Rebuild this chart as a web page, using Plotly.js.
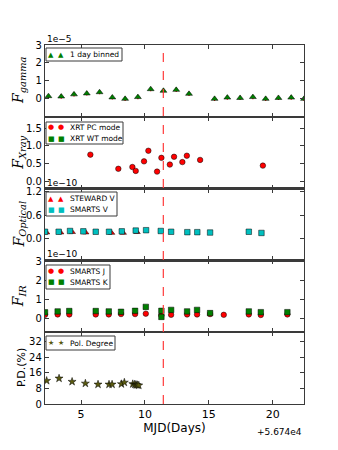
<!DOCTYPE html>
<html>
<head>
<meta charset="utf-8">
<script src="https://cdn.plot.ly/plotly-3.0.1.min.js"></script>
<style>html,body{margin:0;padding:0;background:#fff;}#chart{width:338px;height:450px;}</style>
</head>
<body>
<div id="chart"></div>
<script>
// ---- Data (MJD offsets from 56740) ----
const gammaDays = [2.45,3.45,4.45,5.45,6.45,7.45,8.45,9.45,10.45,11.45,12.45,13.45,15.45,16.45,17.45,18.45,19.45,20.45,21.45,22.45];
const gammaFlux = [0.15,0.13,0.25,0.30,0.37,0.08,0.00,0.10,0.54,0.45,0.50,0.28,0.00,0.07,0.05,0.10,0.00,0.05,0.07,0.00]; // x1e-5
const gammaErr  = [0.12,0.12,0.12,0.12,0.12,0.12,0.12,0.12,0.12,0.12,0.12,0.12,0.12,0.12,0.12,0.12,0.12,0.12,0.12,0.12];

const xrtPcDays = [5.73,7.92,9.02,9.28,9.93,10.27,10.95,11.29,11.95,12.28,12.93,13.28,14.32,19.23];
const xrtPcFlux = [0.75,0.35,0.40,0.29,0.56,0.86,0.27,0.66,0.47,0.69,0.54,0.72,0.60,0.44]; // x1e-10
const xrtWtDays = [];
const xrtWtFlux = [];

const stewardVDays = [2.31,3.41,4.32,5.37,7.40,8.31,9.39];
const stewardVFlux = [0.16,0.16,0.17,0.16,0.15,0.15,0.17];
const smartsVDays = [2.18,3.25,4.14,5.18,6.15,7.19,8.19,9.28,10.09,11.24,12.05,13.32,14.10,15.10,18.13,19.12];
const smartsVFlux = [0.18,0.18,0.20,0.19,0.18,0.18,0.19,0.21,0.22,0.20,0.18,0.17,0.17,0.16,0.18,0.15];

const smartsJDays = [2.18,3.17,4.08,6.15,7.17,8.13,9.23,10.07,11.29,12.05,13.30,14.08,15.10,16.17,18.13,19.07,21.15];
const smartsJFlux = [0.17,0.19,0.19,0.19,0.19,0.21,0.21,0.23,0.14,0.17,0.19,0.19,0.21,0.17,0.19,0.16,0.19];
const smartsKDays = [2.18,3.17,4.08,6.15,7.17,8.13,9.23,10.07,11.29,11.29,12.05,13.30,14.08,15.10,18.13,19.07,21.15];
const smartsKFlux = [0.30,0.35,0.37,0.37,0.35,0.33,0.38,0.59,0.38,0.06,0.43,0.35,0.43,0.26,0.35,0.31,0.31];

const polDays = [2.31,3.28,4.30,5.34,6.33,7.19,7.43,8.16,8.39,9.05,9.20,9.30,9.40,9.52];
const polDeg  = [12.0,13.2,11.5,10.6,10.1,10.1,10.1,10.3,11.1,10.3,10.1,9.9,9.8,9.6];

const flareDay = 11.44;
const xTicks = [5,10,15,20];
const xTickText = ['5','10','15','20'];

// ---- Styles ----
const W = 338, H = 450, ML = 45, MR = 34, MT = 45, MB = 46;
const PW = W - ML - MR, PH = H - MT - MB;
const px2x = p => (p - ML) / PW;
const py2y = p => (H - MB - p) / PH;

const xRange = [2.18, 22.45];
const frame = '#3a3a3a';
function xax(anchor, labels){
  return {domain:[0,1], anchor:anchor, range:xRange, tickvals:xTicks, ticktext:xTickText,
    showticklabels:labels, ticks:'inside', ticklen:4, tickwidth:1, tickcolor:frame,
    showline:true, linecolor:frame, linewidth:1.2, mirror:'ticks', showgrid:false, zeroline:false,
    tickfont:{family:'DejaVu Sans', size:11, color:'#000'}};
}
function yax(anchor, dom, range, tv, tt){
  return {domain:dom, anchor:anchor, range:range, tickvals:tv, ticktext:tt,
    ticks:'inside', ticklen:4, tickwidth:1, tickcolor:frame,
    showline:true, linecolor:frame, linewidth:1.2, mirror:'ticks', showgrid:false, zeroline:false,
    tickfont:{family:'DejaVu Sans', size:10, color:'#000'}};
}
const edge = {color:'#000', width:0.5};
const RED = '#ff0000', GREEN = '#007f00', CYAN = '#00bfbf', OLIVE = '#5a5a10';
const MS = 5.5;

const traces = [
  {x:gammaDays, y:gammaFlux, xaxis:'x', yaxis:'y', type:'scatter', mode:'markers', name:'1 day binned',
   error_y:{type:'data', array:gammaErr, color:RED, thickness:1.2, width:0},
   marker:{symbol:'triangle-up', size:MS+0.5, color:GREEN, line:edge}},
  {x:xrtPcDays, y:xrtPcFlux, xaxis:'x2', yaxis:'y2', type:'scatter', mode:'markers', name:'XRT PC mode',
   marker:{symbol:'circle', size:MS, color:RED, line:edge}},
  {x:xrtWtDays, y:xrtWtFlux, xaxis:'x2', yaxis:'y2', type:'scatter', mode:'markers', name:'XRT WT mode',
   marker:{symbol:'square', size:MS, color:GREEN, line:edge}},
  {x:stewardVDays, y:stewardVFlux, xaxis:'x3', yaxis:'y3', type:'scatter', mode:'markers', name:'STEWARD V',
   marker:{symbol:'triangle-up', size:MS, color:RED, line:edge}},
  {x:smartsVDays, y:smartsVFlux, xaxis:'x3', yaxis:'y3', type:'scatter', mode:'markers', name:'SMARTS V',
   marker:{symbol:'square', size:MS, color:CYAN, line:edge}},
  {x:smartsJDays, y:smartsJFlux, xaxis:'x4', yaxis:'y4', type:'scatter', mode:'markers', name:'SMARTS J',
   marker:{symbol:'circle', size:MS, color:RED, line:edge}},
  {x:smartsKDays, y:smartsKFlux, xaxis:'x4', yaxis:'y4', type:'scatter', mode:'markers', name:'SMARTS K',
   marker:{symbol:'square', size:MS, color:GREEN, line:edge}},
  {x:polDays, y:polDeg, xaxis:'x5', yaxis:'y5', type:'scatter', mode:'markers', name:'Pol. Degree',
   marker:{symbol:'star', size:MS+0.5, color:OLIVE, line:edge}}
];

// ---- Compact matplotlib-style legends (box + two glyphs + label) ----
const shapes = [{type:'line', xref:'x', yref:'paper', x0:flareDay, x1:flareDay, y0:0, y1:1,
  line:{color:'#ff3b3b', width:1.2, dash:'dash'}}];
const annotations = [];
function legBox(x0, x1, y0, y1){
  shapes.push({type:'rect', xref:'paper', yref:'paper', x0:px2x(x0), x1:px2x(x1), y0:py2y(y1), y1:py2y(y0),
    fillcolor:'#fff', line:{color:frame, width:1}, layer:'above'});
}
function legEntry(yp, glyph, color, label, gsize){
  [51, 61].forEach(xp => annotations.push({text:glyph, xref:'paper', yref:'paper', x:px2x(xp), y:py2y(yp),
    xanchor:'center', yanchor:'middle', showarrow:false, font:{family:'DejaVu Sans', size:gsize||7, color:color}}));
  annotations.push({text:label, xref:'paper', yref:'paper', x:px2x(68), y:py2y(yp),
    xanchor:'left', yanchor:'middle', showarrow:false, font:{family:'DejaVu Sans', size:7.5, color:'#000'}});
}
legBox(46, 122, 48, 61);   legEntry(54.5, '\u25B2', GREEN, traces[0].name);
legBox(46, 123, 122, 144); legEntry(127, '\u25CF', RED, traces[1].name); legEntry(138.5, '\u25A0', GREEN, traces[2].name);
legBox(46, 117, 192, 216); legEntry(198.5, '\u25B2', RED, traces[3].name); legEntry(209.5, '\u25A0', CYAN, traces[4].name);
legBox(46, 110, 265, 289); legEntry(271, '\u25CF', RED, traces[5].name); legEntry(282, '\u25A0', GREEN, traces[6].name);
legBox(46, 115, 336, 350); legEntry(343, '\u2605', OLIVE, traces[7].name);

const titleFont = {family:'DejaVu Serif', size:14, color:'#000'};
function ytitle(txt, y, font, xp){
  annotations.push({text:txt, xref:'paper', yref:'paper', x:px2x(xp||19), y:y, xanchor:'center', yanchor:'middle',
    textangle:-90, showarrow:false, font:font||titleFont});
}
function offTxt(txt, y){
  annotations.push({text:txt, xref:'paper', yref:'paper', x:0, y:y, xanchor:'left', yanchor:'bottom', yshift:-1,
    showarrow:false, font:{family:'DejaVu Sans', size:9, color:'#000'}});
}
ytitle('<i>F</i><sub><i>gamma</i></sub>', 0.9);
ytitle('<i>F</i><sub><i>Xray</i></sub>', 0.7);
ytitle('<i>F</i><sub><i>Optical</i></sub>', 0.5);
ytitle('<i>F</i><sub><i>IR</i></sub>', 0.3);
ytitle('P.D.(%)', 0.1, {family:'DejaVu Sans', size:11, color:'#000'}, 21);
offTxt('1e\u22125', 1.0);
offTxt('1e\u221210', 0.6);
offTxt('1e\u221210', 0.4);
annotations.push({text:'+5.674e4', xref:'paper', yref:'paper', x:1, y:py2y(432), xanchor:'right', yanchor:'middle',
  showarrow:false, font:{family:'DejaVu Sans', size:9, color:'#000'}});

const layout = {
  width:W, height:H, paper_bgcolor:'#fff', plot_bgcolor:'#fff',
  margin:{l:ML, r:MR, t:MT, b:MB}, showlegend:false,
  font:{family:'DejaVu Sans', color:'#000'},
  xaxis: xax('y', false),
  xaxis2: xax('y2', false),
  xaxis3: xax('y3', false),
  xaxis4: xax('y4', false),
  xaxis5: Object.assign(xax('y5', true), {title:{text:'MJD(Days)', font:{family:'DejaVu Sans', size:12, color:'#000'}, standoff:2}}),
  yaxis: yax('x', [0.8,1.0], [-1,3], [0,1,2,3], ['0','1','2','3']),
  yaxis2: yax('x2', [0.6,0.8], [-0.21,1.82], [0,0.5,1,1.5], ['0.0','0.5','1.0','1.5']),
  yaxis3: yax('x3', [0.4,0.6], [-0.55,1.28], [0,0.6,1.2], ['0.0','0.6','1.2']),
  yaxis4: yax('x4', [0.2,0.4], [-0.75,3.05], [0,1,2,3], ['0','1','2','3']),
  yaxis5: yax('x5', [0,0.2], [0,37], [0,8,16,24,32], ['0','8','16','24','32']),
  shapes: shapes,
  annotations: annotations
};

Plotly.newPlot('chart', traces, layout, {staticPlot:true, displayModeBar:false});
</script>
</body>
</html>
